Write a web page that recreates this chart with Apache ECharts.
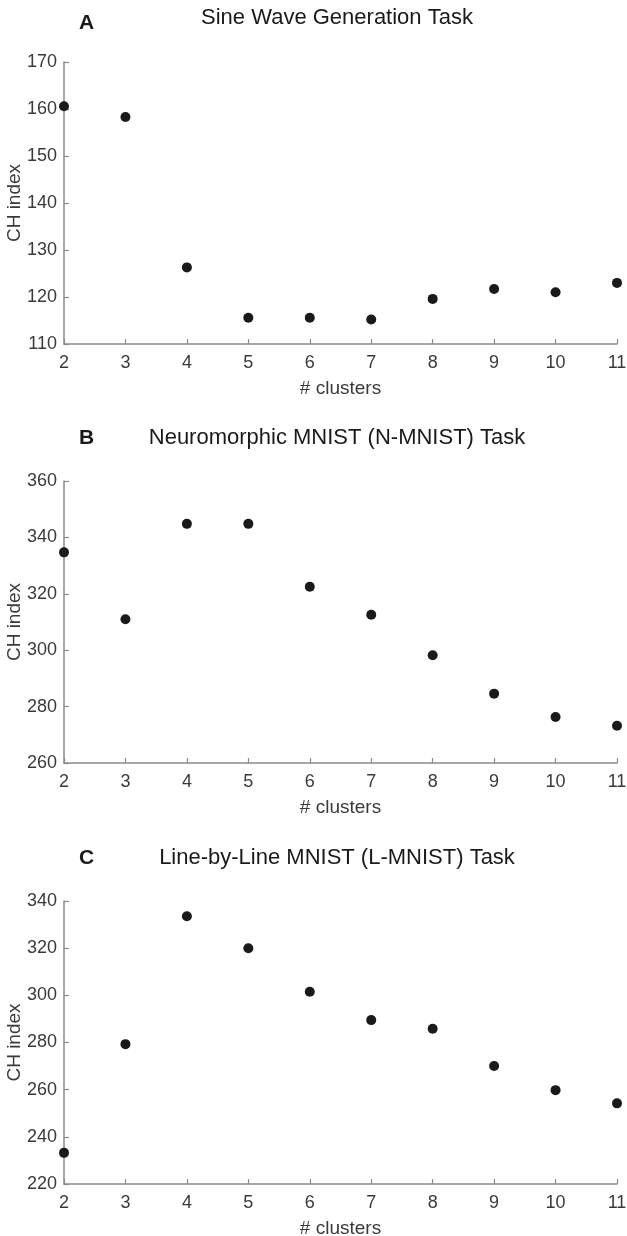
<!DOCTYPE html>
<html>
<head>
<meta charset="utf-8">
<script src="https://cdn.jsdelivr.net/npm/echarts@6/dist/echarts.min.js"></script>
<style>
html,body{margin:0;padding:0;background:#fff;}
#chart{width:627px;height:1236px;}
</style>
</head>
<body>
<div id="chart"></div>
<script>
const clusters = [2, 3, 4, 5, 6, 7, 8, 9, 10, 11];
const sineCH = [160.6, 158.3, 126.3, 115.6, 115.6, 115.2, 119.6, 121.7, 121.0, 123.0];
const nmnistCH = [334.7, 311.0, 344.8, 344.8, 322.5, 312.6, 298.2, 284.6, 276.3, 273.2];
const lmnistCH = [233.2, 279.3, 333.5, 320.0, 301.5, 289.5, 285.8, 270.0, 259.8, 254.2];
const panelLetters = ['A', 'B', 'C'];
const panelTitles = ['Sine Wave Generation Task', 'Neuromorphic MNIST (N-MNIST) Task', 'Line-by-Line MNIST (L-MNIST) Task'];
const yRanges = [[110, 170, 10], [260, 360, 20], [220, 340, 20]];
const seriesData = [sineCH, nmnistCH, lmnistCH];

const FONT = '"Liberation Sans", Arial, Helvetica, sans-serif';
const grids = [
  {left: 64, right: 10, top: 62, height: 282, outerBoundsMode: 'none', containLabel: false},
  {left: 64, right: 10, top: 481, height: 282, outerBoundsMode: 'none', containLabel: false},
  {left: 64, right: 10, top: 901, height: 283, outerBoundsMode: 'none', containLabel: false}
];
const titleTops = [15, 435, 855];
const letterTops = [20, 435, 855];

const titles = [];
panelTitles.forEach((t, i) => {
  titles.push({text: t, left: 332, top: titleTops[i] - 13, textAlign: 'center',
    textStyle: {fontFamily: FONT, fontSize: 22, fontWeight: 'normal', color: '#1a1a1a'}});
  titles.push({text: panelLetters[i], left: 74, top: letterTops[i] - 12,
    textStyle: {fontFamily: FONT, fontSize: 21, fontWeight: 'bold', color: '#1a1a1a'}});
});

const axisLine = {show: true, lineStyle: {color: '#8a8a8a', width: 1.5}};
const axisTick = {show: true, inside: true, length: 5, lineStyle: {color: '#8a8a8a', width: 1.2}};
const labelStyle = {fontFamily: FONT, fontSize: 18, color: '#3a3a3a'};

const xAxes = grids.map((g, i) => ({
  type: 'value', gridIndex: i, min: 2, max: 11, interval: 1,
  axisLine, axisTick, splitLine: {show: false},
  axisLabel: Object.assign({margin: 10}, labelStyle),
  name: '# clusters', nameLocation: 'middle', nameGap: 35, nameMoveOverlap: false,
  nameTextStyle: {fontFamily: FONT, fontSize: 19, color: '#3a3a3a'}
}));
const yAxes = grids.map((g, i) => ({
  type: 'value', gridIndex: i, min: yRanges[i][0], max: yRanges[i][1], interval: yRanges[i][2],
  axisLine, axisTick, splitLine: {show: false},
  axisLabel: Object.assign({margin: 7}, labelStyle),
  name: 'CH index', nameLocation: 'middle', nameGap: 40, nameMoveOverlap: false,
  nameTextStyle: {fontFamily: FONT, fontSize: 19, color: '#3a3a3a'}
}));
const series = seriesData.map((d, i) => ({
  type: 'scatter', xAxisIndex: i, yAxisIndex: i,
  data: clusters.map((c, j) => [c, d[j]]),
  symbol: 'circle', symbolSize: 10,
  itemStyle: {color: '#1a1a1a', opacity: 1},
  clip: false, silent: true, z: 3
}));

const chart = echarts.init(document.getElementById('chart'), null, {renderer: 'canvas'});
chart.setOption({
  backgroundColor: '#ffffff',
  animation: false,
  title: titles,
  grid: grids,
  xAxis: xAxes,
  yAxis: yAxes,
  series
});
</script>
</body>
</html>
